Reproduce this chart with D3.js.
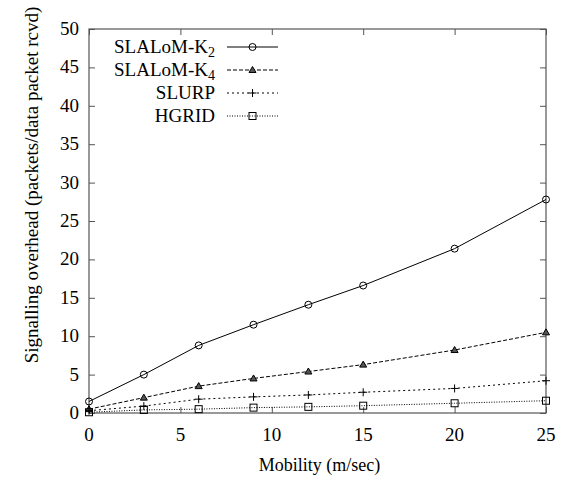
<!DOCTYPE html>
<html>
<head>
<meta charset="utf-8">
<script src="https://cdn.jsdelivr.net/npm/d3@7"></script>
<style>
  html, body { margin: 0; padding: 0; background: #fff; }
</style>
</head>
<body>
<svg id="chart" width="565" height="485"></svg>
<script>
// Mobility (m/sec) sample points
const mobility = [0, 3, 6, 9, 12, 15, 20, 25];
// Signalling overhead per protocol
const slalomK2 = [1.5, 5.0, 8.8, 11.5, 14.1, 16.6, 21.4, 27.8];
const slalomK4 = [0.5, 2.0, 3.5, 4.5, 5.4, 6.3, 8.2, 10.5];
const slurp    = [0.3, 0.9, 1.8, 2.1, 2.35, 2.7, 3.2, 4.2];
const hgrid    = [0.1, 0.4, 0.5, 0.7, 0.8, 0.95, 1.27, 1.6];
const seriesNames = ["SLALoM-K", "SLALoM-K", "SLURP", "HGRID"];
const seriesSubs = ["2", "4", "", ""];
const xTicks = [0, 5, 10, 15, 20, 25];
const yTicks = [0, 5, 10, 15, 20, 25, 30, 35, 40, 45, 50];

const FONT = "'Liberation Serif'";
const svg = d3.select("#chart");
const L = 89, R = 546, T = 29, B = 413;
const x = d3.scaleLinear().domain([0, 25]).range([L, R]);
const y = d3.scaleLinear().domain([0, 50]).range([B, T]);

const frameColor = "#555";

// inward ticks on all four sides
const tickLen = 6;
const axes = svg.append("g");
axes.append("g").attr("transform", `translate(0,${B})`)
  .call(d3.axisTop(x).tickValues(xTicks).tickSize(tickLen).tickFormat(""));
axes.append("g").attr("transform", `translate(0,${T})`)
  .call(d3.axisBottom(x).tickValues(xTicks).tickSize(tickLen).tickFormat(""));
axes.append("g").attr("transform", `translate(${L},0)`)
  .call(d3.axisRight(y).tickValues(yTicks).tickSize(tickLen).tickFormat(""));
axes.append("g").attr("transform", `translate(${R},0)`)
  .call(d3.axisLeft(y).tickValues(yTicks).tickSize(tickLen).tickFormat(""));
axes.selectAll(".domain").remove();
axes.selectAll("text").remove();
axes.selectAll("line").attr("stroke", frameColor).attr("stroke-width", 1);

svg.append("rect")
  .attr("x", L).attr("y", T).attr("width", R - L).attr("height", B - T)
  .attr("fill", "none").attr("stroke", frameColor).attr("stroke-width", 1.2);

// tick labels
svg.append("g").selectAll("text").data(xTicks).join("text")
  .attr("font-family", FONT)
  .attr("x", d => x(d)).attr("y", 441)
  .attr("text-anchor", "middle").attr("font-size", 19).text(d => d);
svg.append("g").selectAll("text").data(yTicks).join("text")
  .attr("font-family", FONT)
  .attr("x", 79).attr("y", d => y(d) + 6)
  .attr("text-anchor", "end").attr("font-size", 19).text(d => d);

// axis titles
svg.append("text").attr("x", (L + R) / 2 + 2).attr("y", 471)
  .attr("font-family", FONT)
  .attr("text-anchor", "middle").attr("font-size", 18).text("Mobility (m/sec)");
svg.append("text")
  .attr("font-family", FONT)
  .attr("transform", "translate(38,185) rotate(-90)")
  .attr("text-anchor", "middle").attr("font-size", 19)
  .text("Signalling overhead (packets/data packet rcvd)");

// series definitions
const series = [
  { values: slalomK2, dash: null, marker: "circle" },
  { values: slalomK4, dash: "4,2", marker: "triangle" },
  { values: slurp, dash: "2,3", marker: "plus" },
  { values: hgrid, dash: "1,1.5", marker: "square" }
];

function drawMarker(g, type, cx, cy) {
  if (type === "circle") {
    g.append("circle").attr("cx", cx).attr("cy", cy).attr("r", 3.5)
      .attr("fill", "none").attr("stroke", "#000").attr("stroke-width", 1);
  } else if (type === "triangle") {
    g.append("path")
      .attr("d", `M${cx},${cy - 3.5}L${cx + 3.5},${cy + 2.5}L${cx - 3.5},${cy + 2.5}Z`)
      .attr("fill", "#555").attr("stroke", "#000").attr("stroke-width", 1);
  } else if (type === "plus") {
    g.append("path")
      .attr("d", `M${cx - 4},${cy}H${cx + 4}M${cx},${cy - 4}V${cy + 4}`)
      .attr("fill", "none").attr("stroke", "#000").attr("stroke-width", 1);
  } else if (type === "square") {
    g.append("rect").attr("x", cx - 3.5).attr("y", cy - 3.5)
      .attr("width", 7).attr("height", 7)
      .attr("fill", "none").attr("stroke", "#000").attr("stroke-width", 1);
  }
}

const line = d3.line().x(d => x(d[0])).y(d => y(d[1]));
series.forEach(s => {
  const pts = mobility.map((m, i) => [m, s.values[i]]);
  const g = svg.append("g");
  g.append("path").datum(pts).attr("d", line)
    .attr("fill", "none").attr("stroke", "#000").attr("stroke-width", 1)
    .attr("stroke-dasharray", s.dash);
  pts.forEach(p => drawMarker(g, s.marker, x(p[0]), y(p[1])));
});

// legend
const legend = svg.append("g");
const rowY = [47, 70, 93, 116];
series.forEach((s, i) => {
  const t = legend.append("text").attr("x", 215).attr("y", rowY[i] + 6)
    .attr("font-family", FONT)
    .attr("text-anchor", "end").attr("font-size", 19);
  t.append("tspan").text(seriesNames[i]);
  if (seriesSubs[i]) {
    t.append("tspan").attr("dy", 4).attr("font-size", 14).text(seriesSubs[i]);
  }
  legend.append("line").attr("x1", 227).attr("x2", 278)
    .attr("y1", rowY[i]).attr("y2", rowY[i])
    .attr("stroke", "#000").attr("stroke-width", 1)
    .attr("stroke-dasharray", s.dash);
  drawMarker(legend, s.marker, 252.5, rowY[i]);
});
</script>
</body>
</html>
